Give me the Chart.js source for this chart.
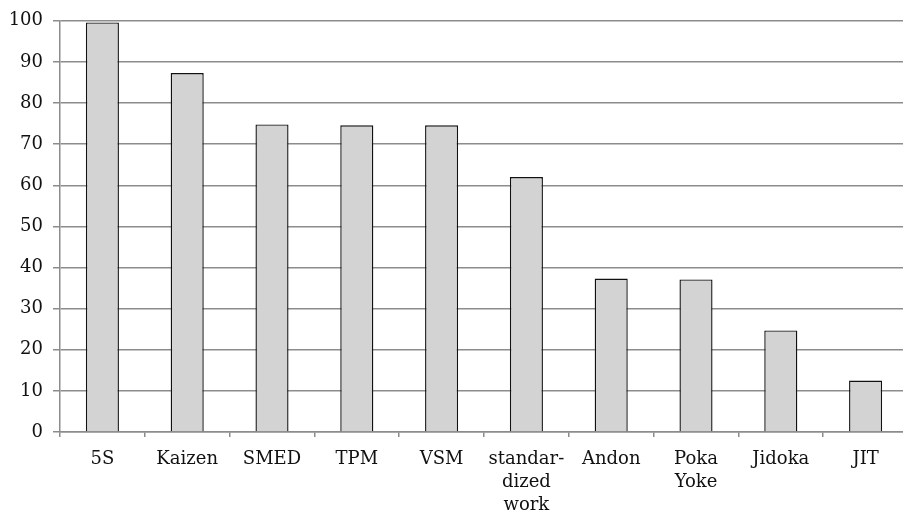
<!DOCTYPE html>
<html>
<head>
<meta charset="utf-8">
<script src="https://cdn.jsdelivr.net/npm/chart.js@4"></script>
<style>
  html, body { margin: 0; padding: 0; background: #fff; overflow: hidden; }
  #wrap { width: 908px; height: 517px; position: relative; }
</style>
</head>
<body>
<div id="wrap"><canvas id="c"></canvas></div>
<script>
// Lean tools and their reported usage
const categories = ["5S", "Kaizen", "SMED", "TPM", "VSM", ["standar-", "dized", "work"], "Andon", ["Poka", "Yoke"], "Jidoka", "JIT"];
const usage = [99.6, 87.3, 74.8, 74.6, 74.6, 62.0, 37.3, 37.1, 24.7, 12.5];
const yTicks = [0, 10, 20, 30, 40, 50, 60, 70, 80, 90, 100];

const FONT = "'DejaVu Serif', 'Liberation Serif', serif";
const GRID = '#8c8c8c';

new Chart(document.getElementById('c'), {
  type: 'bar',
  data: {
    labels: categories,
    datasets: [{
      data: usage,
      backgroundColor: '#d3d3d3',
      borderColor: '#111',
      borderWidth: 1.4,
      categoryPercentage: 1,
      barPercentage: 0.39
    }]
  },
  options: {
    responsive: true,
    maintainAspectRatio: false,
    animation: false,
    layout: { padding: { top: 11, right: 0, left: 0, bottom: 0 } },
    plugins: { legend: { display: false }, tooltip: { enabled: false } },
    scales: {
      x: {
        grid: { offset: true, drawOnChartArea: false, color: GRID, lineWidth: 1.5, tickLength: 5 },
        border: { color: GRID, width: 1.5 },
        ticks: { color: '#111', font: { family: FONT, size: 18, lineHeight: 1.28 }, padding: 11, maxRotation: 0, autoSkip: false },
        afterFit: s => { s.height = 85; }
      },
      y: {
        min: 0, max: 100,
        afterBuildTicks: s => { s.ticks = yTicks.map(v => ({ value: v })); },
        grid: { color: GRID, lineWidth: 1.5, tickLength: 7 },
        border: { color: GRID, width: 1.5 },
        ticks: { color: '#111', font: { family: FONT, size: 18 }, padding: 10 },
        afterFit: s => { s.width = 60; }
      }
    }
  }
});
</script>
</body>
</html>
